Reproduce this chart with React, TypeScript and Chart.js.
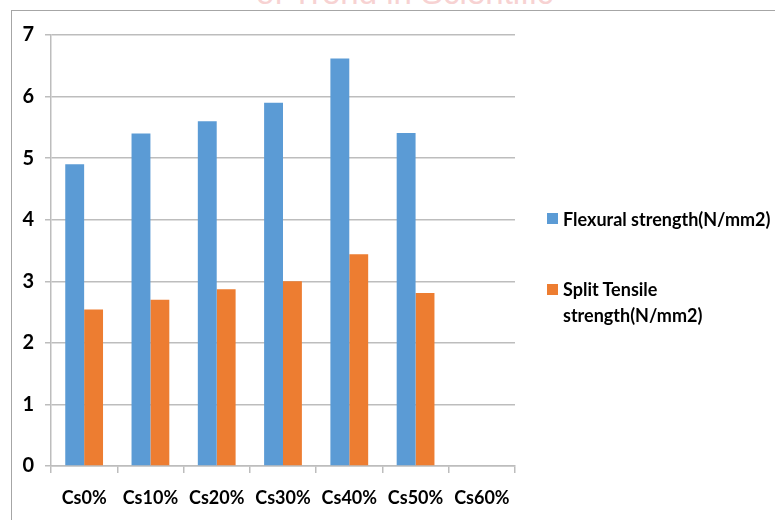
import React, { useEffect, useRef } from "react";
import { Chart, registerables } from "chart.js";

Chart.register(...registerables);

const categories = ["Cs0%", "Cs10%", "Cs20%", "Cs30%", "Cs40%", "Cs50%", "Cs60%"];
const flexuralStrength = [4.9, 5.4, 5.6, 5.9, 6.62, 5.41, 0];
const splitTensileStrength = [2.54, 2.7, 2.87, 3.0, 3.44, 2.81, 0];
const flexuralLabel = "Flexural strength(N/mm2)";
const splitLabelLines = ["Split Tensile", "strength(N/mm2)"];

const BLUE = "#5B9BD5";
const ORANGE = "#ED7D31";
const GRID = "#BDBDBD";
const FONT = "Lato, 'DejaVu Sans Condensed', sans-serif";

export default function App() {
  const canvasRef = useRef<HTMLCanvasElement | null>(null);

  useEffect(() => {
    if (!canvasRef.current) return;
    const chart = new Chart(canvasRef.current, {
      type: "bar",
      data: {
        labels: categories,
        datasets: [
          {
            label: flexuralLabel,
            data: flexuralStrength,
            backgroundColor: BLUE,
            borderWidth: 0,
            categoryPercentage: 0.57,
            barPercentage: 1,
          },
          {
            label: splitLabelLines.join(" "),
            data: splitTensileStrength,
            backgroundColor: ORANGE,
            borderWidth: 0,
            categoryPercentage: 0.57,
            barPercentage: 1,
          },
        ],
      },
      options: {
        responsive: false,
        animation: false,
        layout: { padding: { top: 35, right: 260, left: 0, bottom: 0 } },
        plugins: { legend: { display: false }, tooltip: { enabled: false } },
        scales: {
          x: {
            grid: {
              offset: true,
              drawOnChartArea: false,
              drawTicks: true,
              tickLength: 7,
              color: GRID,
              lineWidth: 1.5,
            },
            border: { display: true, color: GRID, width: 1.5 },
            ticks: {
              color: "#000",
              padding: 14,
              font: { family: FONT, size: 18, weight: "bold" },
            },
            afterFit: (scale: any) => {
              scale.height = 54;
            },
          },
          y: {
            min: 0,
            max: 7,
            ticks: {
              stepSize: 1,
              color: "#000",
              padding: 11,
              font: { family: FONT, size: 20, weight: "bold" },
            },
            grid: { color: GRID, lineWidth: 1.5, tickLength: 6 },
            border: { display: true, color: GRID, width: 1.5 },
            afterFit: (scale: any) => {
              scale.width = 51;
            },
          },
        },
      },
    });
    return () => chart.destroy();
  }, []);

  const textStyle: React.CSSProperties = {
    position: "absolute",
    fontFamily: FONT,
    fontWeight: "bold",
    fontSize: 18,
    color: "#000",
    whiteSpace: "nowrap",
    lineHeight: "26px",
  };

  return (
    <div
      style={{
        position: "fixed",
        left: 0,
        top: 0,
        width: 775,
        height: 520,
        background: "#fff",
        overflow: "hidden",
      }}
    >
      <div style={{ position: "absolute", left: 0, top: 0, width: 775, height: 10, overflow: "hidden" }}>
        <div
          style={{
            position: "absolute",
            left: 256,
            top: -26,
            fontFamily: "'Liberation Sans', sans-serif",
            fontSize: 33,
            color: "#F7D2D2",
            whiteSpace: "nowrap",
          }}
        >
          of Trend in Scientific
        </div>
      </div>
      <div
        style={{
          position: "absolute",
          left: 11,
          top: 10,
          width: 800,
          height: 600,
          borderTop: "1.5px solid #A6A6A6",
          borderLeft: "1.5px solid #A6A6A6",
        }}
      />
      <canvas
        ref={canvasRef}
        width={775}
        height={520}
        style={{ position: "absolute", left: 0, top: 0, width: 775, height: 520 }}
      />
      <div style={{ position: "absolute", left: 547, top: 213, width: 11, height: 11, background: BLUE }} />
      <div style={{ ...textStyle, left: 563, top: 206 }}>{flexuralLabel}</div>
      <div style={{ position: "absolute", left: 547, top: 284, width: 11, height: 11, background: ORANGE }} />
      <div style={{ ...textStyle, left: 563, top: 276 }}>
        {splitLabelLines.map((line) => (
          <div key={line}>{line}</div>
        ))}
      </div>
    </div>
  );
}
